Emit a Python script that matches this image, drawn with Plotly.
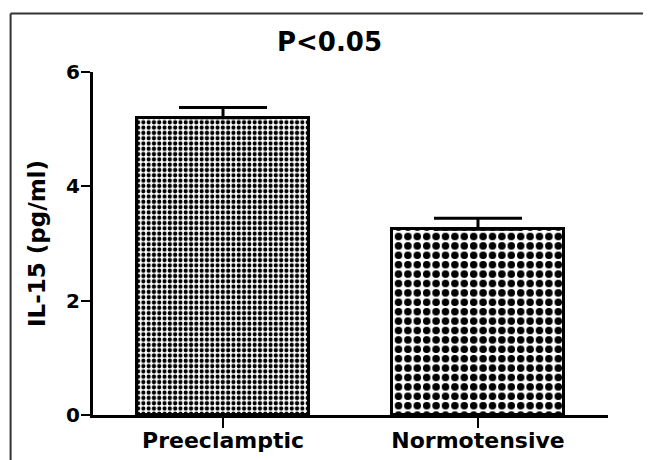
import plotly.graph_objects as go

categories = ["Preeclamptic", "Normotensive"]
means = [5.20, 3.25]
sem = [0.18, 0.19]
title_text = "P<0.05"
y_title = "IL-15 (pg/ml)"
y_ticks = [0, 2, 4, 6]

FONT = "DejaVu Sans"

fig = go.Figure()
patterns = [dict(shape=".", size=5.3, solidity=0.5, fgcolor="black", bgcolor="white", fgopacity=1),
            dict(shape=".", size=9.4, solidity=0.5, fgcolor="black", bgcolor="white", fgopacity=1)]
for i, (c, m, e) in enumerate(zip(categories, means, sem)):
    fig.add_trace(go.Bar(
        x=[c], y=[m], width=0.675,
        marker=dict(color="white", line=dict(color="black", width=3), pattern=patterns[i]),
        error_y=dict(type="data", symmetric=False, array=[e], arrayminus=[0],
                     color="black", thickness=3, width=44),
        showlegend=False,
    ))

# page body has an 8px margin, so the figure is 8px smaller and margins shifted
fig.update_layout(
    width=643, height=452,
    margin=dict(l=85, r=43, t=64, b=45, autoexpand=False),
    paper_bgcolor="white", plot_bgcolor="white",
    title=dict(text="<b>%s</b>" % title_text, x=0.5, xanchor="center", y=1 - 34 / 452, yanchor="middle",
               font=dict(family=FONT, size=26, color="black")),
    bargap=0,
    xaxis=dict(range=[-0.51, 1.51], showline=True, linecolor="black", linewidth=3, automargin=False,
               ticks="outside", ticklen=10, tickwidth=2, tickcolor="black", ticklabelstandoff=-6,
               tickfont=dict(family=FONT, size=22, color="black"), showgrid=False, zeroline=False,
               tickvals=categories, ticktext=["<b>%s</b>" % c for c in categories]),
    yaxis=dict(range=[0, 6], showline=True, linecolor="black", linewidth=3, automargin=False,
               ticks="outside", ticklen=9, tickwidth=2, tickcolor="black", ticklabelstandoff=-3,
               tickvals=y_ticks, ticktext=["<b>%d</b>" % t for t in y_ticks],
               tickfont=dict(family=FONT, size=20, color="black"), showgrid=False, zeroline=False,
               title=dict(text="<b>%s</b>" % y_title, font=dict(family=FONT, size=23, color="black"))),
)

# image frame (top and left borders)
fig.add_shape(type="line", xref="paper", yref="paper", x0=-0.160, x1=1.2, y0=1.1706, y1=1.1706,
              line=dict(color="#333333", width=2))
fig.add_shape(type="line", xref="paper", yref="paper", x0=-0.160, x1=-0.160, y0=-0.2, y1=1.1706,
              line=dict(color="#333333", width=2))

fig.write_html("out.html")
